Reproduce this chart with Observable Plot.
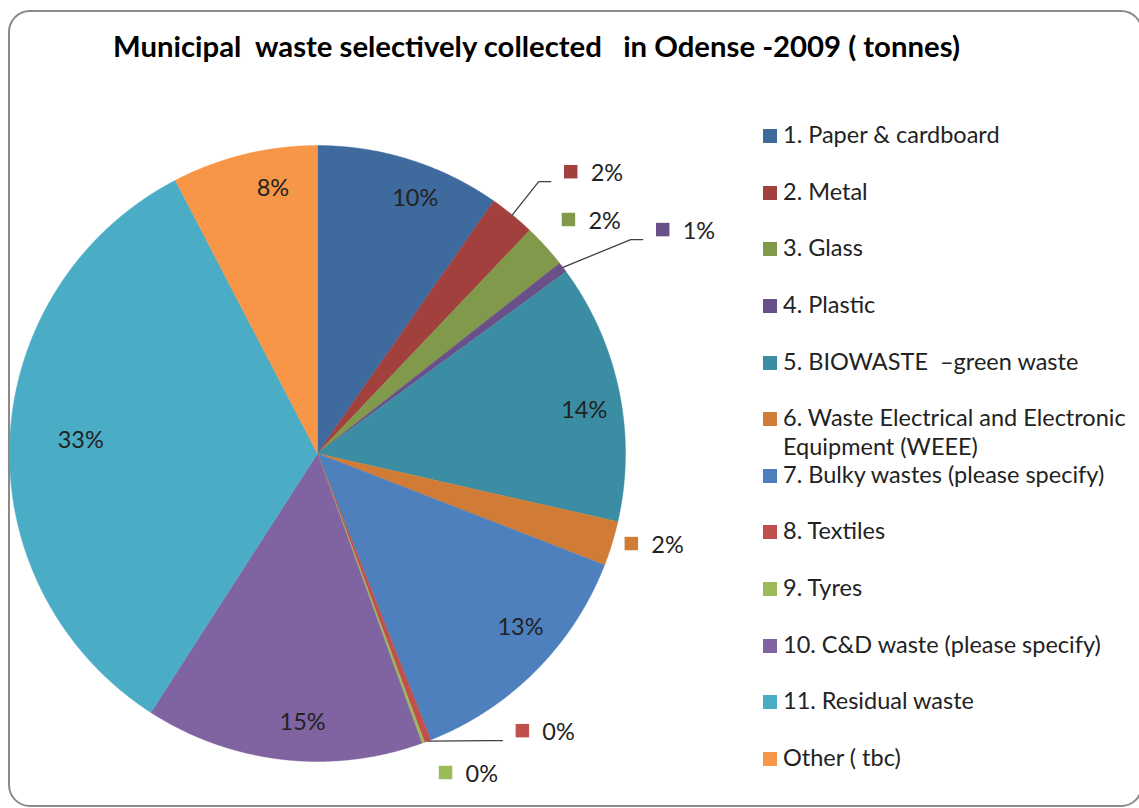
<!DOCTYPE html>
<html><head><meta charset="utf-8">
<script src="https://cdn.jsdelivr.net/npm/d3@7"></script>
<script src="https://cdn.jsdelivr.net/npm/@observablehq/plot@0.6"></script>
<style>
html,body{margin:0;padding:0;background:#fff;overflow:hidden;width:1139px;height:808px;}
body{font-family:Lato,"Open Sans",sans-serif;position:relative;}
#frame{position:absolute;left:8px;top:10px;width:1135px;height:797px;border:2px solid #8a8a8a;border-radius:22px;box-sizing:border-box;}
#title{position:absolute;left:0;width:1073px;top:29px;text-align:center;font-weight:bold;font-size:29.3px;color:#000;white-space:pre;line-height:34px;}
#chart{position:absolute;left:0;top:0;}
#legend{position:absolute;left:0;top:0;}
.row{position:absolute;left:763px;width:370px;font-size:23.5px;line-height:28.5px;color:#222;}
.sw{position:absolute;left:0;width:14px;height:14px;}
.tx{position:absolute;left:20px;width:355px;white-space:pre-wrap;}
</style></head><body>
<div id="frame"></div>
<div id="title">Municipal  waste selectively collected   in Odense -2009 ( tonnes)</div>
<div id="chart"></div>
<div id="legend"></div>
<script>
// ---- data ----
const categories = [
  "1. Paper & cardboard",
  "2. Metal",
  "3. Glass",
  "4. Plastic",
  "5. BIOWASTE  \u2013green waste",
  "6. Waste Electrical and Electronic Equipment (WEEE)",
  "7. Bulky wastes (please specify)",
  "8. Textiles",
  "9. Tyres",
  "10. C&D waste (please specify)",
  "11. Residual waste",
  "Other ( tbc)"
];
// estimated shares of total (%)
const shares = [9.7, 2.4, 2.3, 0.55, 13.6, 2.35, 13.1, 0.35, 0.15, 14.6, 33.26, 7.64];
const colors = ["#3F6A9D", "#A1403D", "#80994A", "#6A5089", "#3A8DA2", "#D07C37",
                "#4E80BD", "#C0504D", "#9BBB59", "#8064A2", "#4BACC6", "#F79646"];

// ---- label layout (polar: radius as fraction of pie radius, angle shift in degrees from slice middle) ----
const labelLayout = [
  {r: 0.887, da: 3.5},
  {r: 1.230, da: 2.7, outside: true, leader: true},
  {r: 1.114, da: -0.7, outside: true},
  {r: 1.336, da: 4.2, outside: true, leader: true},
  {r: 0.877, da: 2.6},
  {r: 1.060, da: -1.0, outside: true},
  {r: 0.868, da: -4.2},
  {r: 1.119, da: -15.5, outside: true, leader: true},
  {r: 1.116, da: -1.8, outside: true},
  {r: 0.874, da: -3.3},
  {r: 0.770, da: 0.5},
  {r: 0.873, da: 4.2}
];

const R = 308, cx = 317, cy = 453;
const total = d3.sum(shares);
const arcs = d3.pie().sort(null).value(d => d)(shares);
const pol = (a, r) => ({x: Math.sin(a) * r, y: Math.cos(a) * r});

// slice outlines
const slicePts = [];
arcs.forEach((a, i) => {
  const cat = categories[i];
  slicePts.push({cat, ...pol(0, 0)});
  const n = Math.max(2, Math.ceil((a.endAngle - a.startAngle) / 0.004));
  for (let k = 0; k <= n; k++) {
    const t = a.startAngle + (a.endAngle - a.startAngle) * k / n;
    slicePts.push({cat, ...pol(t, 1)});
  }
  slicePts.push({cat, ...pol(0, 0)});
});

const labels = arcs.map((a, i) => {
  const L = labelLayout[i];
  const mid = (a.startAngle + a.endAngle) / 2;
  const p = pol(mid + L.da * Math.PI / 180, L.r);
  return {cat: categories[i], text: Math.round(shares[i] / total * 100) + "%", x: p.x, y: p.y,
          outside: !!L.outside, leader: !!L.leader, mid};
});
const inside = labels.filter(d => !d.outside);
const outside = labels.filter(d => d.outside);

// leader lines: slice edge -> elbow -> end next to the label marker
const leaders = [];
labels.filter(d => d.leader).forEach(d => {
  const e = pol(d.mid, 1);
  leaders.push({cat: d.cat, x: e.x, y: e.y});
  leaders.push({cat: d.cat, x: d.x - 32 / R, y: d.y - 10 / R});
  leaders.push({cat: d.cat, x: d.x - 20 / R, y: d.y - 10 / R});
});

const chart = Plot.plot({
  width: 1139, height: 808, margin: 0,
  style: {background: "transparent", fontFamily: "Lato, 'Open Sans', sans-serif"},
  x: {domain: [-1, 1], range: [cx - R, cx + R], axis: null},
  y: {domain: [-1, 1], range: [cy + R, cy - R], axis: null},
  color: {domain: categories, range: colors},
  marks: [
    Plot.line(slicePts, {x: "x", y: "y", z: "cat", fill: "cat", stroke: "cat", strokeWidth: 0.4, curve: "linear"}),
    Plot.line(leaders, {x: "x", y: "y", z: "cat", stroke: "#404040", strokeWidth: 1.3}),
    Plot.text(inside, {x: "x", y: "y", text: "text", fontSize: 23.5, fill: "#222", textAnchor: "middle"}),
    Plot.dot(outside, {x: "x", y: "y", fill: "cat", symbol: "square", r: 7.6, stroke: null}),
    Plot.text(outside, {x: "x", y: "y", text: "text", fontSize: 23.5, fill: "#222", textAnchor: "start", dx: 20, dy: 2})
  ]
});
document.getElementById("chart").appendChild(chart);

// legend
const legend = document.getElementById("legend");
const legendTop = 136, legendStep = 56.64;
categories.forEach((c, i) => {
  const row = document.createElement("div");
  row.className = "row";
  const center = legendTop + i * legendStep;
  row.style.top = (center - 16) + "px";
  const sw = document.createElement("span");
  sw.className = "sw";
  sw.style.background = colors[i];
  sw.style.top = "9px";
  const tx = document.createElement("span");
  tx.className = "tx";
  tx.textContent = c;
  row.appendChild(sw); row.appendChild(tx);
  legend.appendChild(row);
});
</script>
</body></html>
